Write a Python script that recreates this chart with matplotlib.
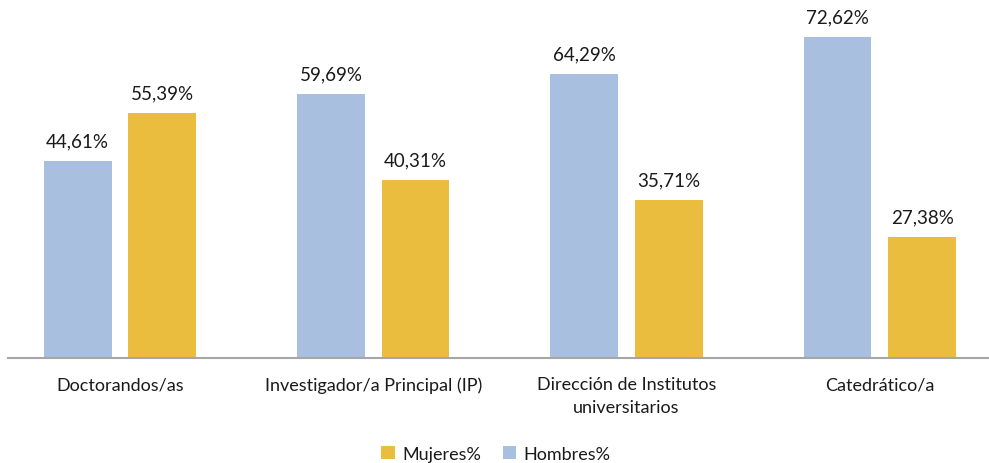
import numpy as np
import matplotlib.pyplot as plt

# datos del grafico
categorias = ['Doctorandos/as', 'Investigador/a Principal (IP)',
              'Dirección de Institutos\nuniversitarios', 'Catedrático/a']
hombres = [44.61, 59.69, 64.29, 72.62]
mujeres = [55.39, 40.31, 35.71, 27.38]

color_h = '#a9bfdf'
color_m = '#ebbd3e'

plt.rcParams['font.family'] = ['Lato', 'DejaVu Sans']

fig = plt.figure(figsize=(9.89, 4.64), dpi=100)
ax = fig.add_axes([8 / 989, (464 - 359) / 464, 981 / 989, 353 / 464])

x = np.arange(len(categorias))
w = 0.268
off = 0.167

b_h = ax.bar(x - off, hombres, w, color=color_h, label='Hombres%')
b_m = ax.bar(x + off, mujeres, w, color=color_m, label='Mujeres%')

for rects, vals in [(b_h, hombres), (b_m, mujeres)]:
    for r, v in zip(rects, vals):
        ax.text(r.get_x() + r.get_width() / 2, v + 2.7,
                f'{v:.2f}%'.replace('.', ','),
                ha='center', va='bottom', fontsize=13.5, color='#1a1a1a')

ax.set_xlim(-0.442, 3.431)
ax.set_ylim(0, 79.9)
ax.set_yticks([])
ax.set_xticks(x)
ax.set_xticklabels(categorias, fontsize=13, color='#1a1a1a', linespacing=1.5)
ax.tick_params(axis='x', length=0, pad=13)

for s in ['top', 'right', 'left']:
    ax.spines[s].set_visible(False)
ax.spines['bottom'].set_color('#a6a6a6')
ax.spines['bottom'].set_linewidth(1.5)

leg = fig.legend([b_m, b_h], ['Mujeres%', 'Hombres%'], loc='center',
                 bbox_to_anchor=(496 / 989, 1 - 455 / 464), ncol=2,
                 frameon=False, fontsize=13, handlelength=0.75,
                 handleheight=0.75, handletextpad=0.4, columnspacing=1.2)
for t in leg.get_texts():
    t.set_color('#1a1a1a')

fig.savefig('out.png', dpi=100)
